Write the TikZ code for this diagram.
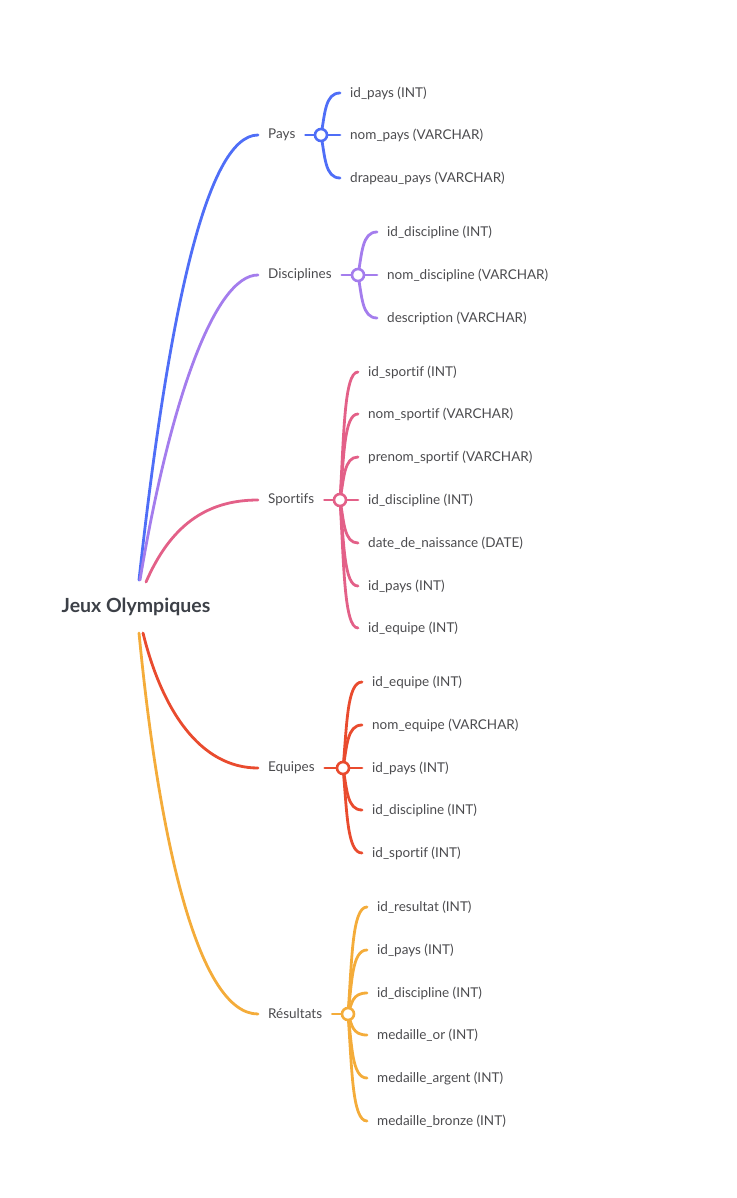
\documentclass[tikz,border=0pt]{standalone}
\usepackage{fontspec}
\setmainfont{Lato}[Ligatures=NoCommon]
\usetikzlibrary{positioning}
\definecolor{cPays}{RGB}{79,110,247}
\definecolor{cDisc}{RGB}{164,125,237}
\definecolor{cSport}{RGB}{227,96,136}
\definecolor{cEquipe}{RGB}{233,75,46}
\definecolor{cRes}{RGB}{244,172,58}
\definecolor{txt}{RGB}{75,75,78}
\pgfdeclarelayer{bg}
\pgfsetlayers{bg,main}
\tikzset{
  branch/.style={line width=2.8pt,line cap=round},
  topic/.style={anchor=west,inner xsep=10pt,inner ysep=2pt,text=txt,font=\fontsize{13.5}{15}\selectfont},
  field/.style={anchor=west,inner xsep=10pt,inner ysep=2pt,text=txt,font=\fontsize{13.5}{15}\selectfont},
  hub/.style={circle,draw=#1,line width=2.6pt,fill=white,minimum size=12pt,inner sep=0pt}
}
\begin{document}
\begin{tikzpicture}[x=1pt,y=-1pt]
\useasboundingbox (0,0) rectangle (736,1198);
\node[text={rgb,255:red,60;green,64;blue,71},font=\fontsize{19.5}{22}\selectfont\bfseries] (root) at (136,607) {Jeux Olympiques};
\coordinate (rootA) at (139,580);
\coordinate (rootB) at (140,580);
\coordinate (rootC) at (146,582);
\coordinate (rootD) at (143,633);
\coordinate (rootE) at (139,633);

% Pays
\node[topic] (pays) at (258,135) {Pays};
\node[hub=cPays] (paysH) at (321,135) {};
\foreach \y/\l [count=\i] in {93/id\_pays (INT),135/nom\_pays (VARCHAR),178/drapeau\_pays (VARCHAR)}
\node[field] (pays-\i) at (340,\y) {\l};
\begin{pgfonlayer}{bg}
\draw[branch,cPays] (rootA) .. controls (167,325) and (205,135) .. (pays.west);
\draw[branch,cPays] (pays.east) -- (paysH.center);
\foreach \y [count=\i] in {93,135,178}
\draw[branch,cPays] (paysH.center) .. controls (325,{(\y+135)/2}) and (325,\y) .. (pays-\i.west);
\end{pgfonlayer}

% Disciplines
\node[topic] (disc) at (258,275) {Disciplines};
\node[hub=cDisc] (discH) at (358,275) {};
\foreach \y/\l [count=\i] in {232/id\_discipline (INT),275/nom\_discipline (VARCHAR),318/description (VARCHAR)}
\node[field] (disc-\i) at (377,\y) {\l};
\begin{pgfonlayer}{bg}
\draw[branch,cDisc] (rootB) .. controls (170,400) and (215,275) .. (disc.west);
\draw[branch,cDisc] (disc.east) -- (discH.center);
\foreach \y [count=\i] in {232,275,318}
\draw[branch,cDisc] (discH.center) .. controls (362,{(\y+275)/2}) and (362,\y) .. (disc-\i.west);
\end{pgfonlayer}

% Sportifs
\node[topic] (sport) at (258,500) {Sportifs};
\node[hub=cSport] (sportH) at (340,500) {};
\foreach \y/\l [count=\i] in {372/id\_sportif (INT),414/nom\_sportif (VARCHAR),457/prenom\_sportif (VARCHAR),500/id\_discipline (INT),543/date\_de\_naissance (DATE),586/id\_pays (INT),628/id\_equipe (INT)}
\node[field] (sport-\i) at (358,\y) {\l};
\begin{pgfonlayer}{bg}
\draw[branch,cSport] (rootC) .. controls (170,527) and (205,500) .. (sport.west);
\draw[branch,cSport] (sport.east) -- (sportH.center);
\foreach \y [count=\i] in {372,414,457,500,543,586,628}
\draw[branch,cSport] (sportH.center) .. controls (344,{(\y+500)/2}) and (344,\y) .. (sport-\i.west);
\end{pgfonlayer}

% Equipes
\node[topic] (equipe) at (258,768) {Equipes};
\node[hub=cEquipe] (equipeH) at (343,768) {};
\foreach \y/\l [count=\i] in {682/id\_equipe (INT),725/nom\_equipe (VARCHAR),768/id\_pays (INT),810/id\_discipline (INT),853/id\_sportif (INT)}
\node[field] (equipe-\i) at (362,\y) {\l};
\begin{pgfonlayer}{bg}
\draw[branch,cEquipe] (rootD) .. controls (162,710) and (200,768) .. (equipe.west);
\draw[branch,cEquipe] (equipe.east) -- (equipeH.center);
\foreach \y [count=\i] in {682,725,768,810,853}
\draw[branch,cEquipe] (equipeH.center) .. controls (347,{(\y+768)/2}) and (347,\y) .. (equipe-\i.west);
\end{pgfonlayer}

% Resultats
\node[topic] (res) at (258,1014) {Résultats};
\node[hub=cRes] (resH) at (348,1014) {};
\foreach \y/\l [count=\i] in {907/id\_resultat (INT),950/id\_pays (INT),993/id\_discipline (INT),1035/medaille\_or (INT),1078/medaille\_argent (INT),1121/medaille\_bronze (INT)}
\node[field] (res-\i) at (367,\y) {\l};
\begin{pgfonlayer}{bg}
\draw[branch,cRes] (rootE) .. controls (160,850) and (200,1014) .. (res.west);
\draw[branch,cRes] (res.east) -- (resH.center);
\foreach \y [count=\i] in {907,950,993,1035,1078,1121}
\draw[branch,cRes] (resH.center) .. controls (352,{(\y+1014)/2}) and (352,\y) .. (res-\i.west);
\end{pgfonlayer}
\end{tikzpicture}
\end{document}
